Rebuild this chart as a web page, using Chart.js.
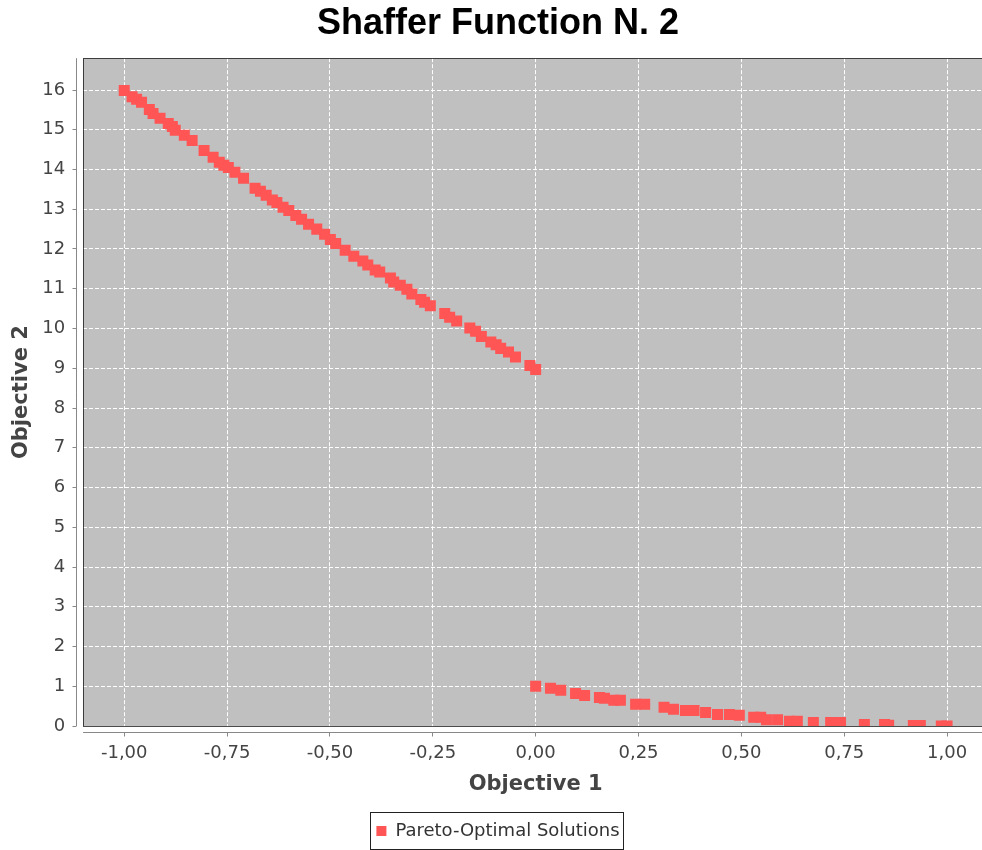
<!DOCTYPE html>
<html lang="en">
<head>
  <meta charset="UTF-8" />
  <title>Shaffer Function N. 2</title>
  <script src="https://cdn.jsdelivr.net/npm/chart.js@4"></script>
  <style>
    html, body { margin: 0; padding: 0; background: #fff; overflow: hidden; }
    canvas { display: block; }
  </style>
</head>
<body>
  <canvas id="paretoChart" width="996" height="850"></canvas>

  <script>
    // Pareto front, left branch (objective 1 from -1 to 0)
    const upperObj1 = [
      -1.000, -0.981, -0.970, -0.958, -0.939, -0.930, -0.913, -0.893, -0.883, -0.876,
      -0.854, -0.835, -0.806, -0.784, -0.769, -0.758, -0.747, -0.731, -0.710, -0.682,
      -0.669, -0.655, -0.640, -0.629, -0.614, -0.600, -0.583, -0.569, -0.552, -0.532,
      -0.513, -0.499, -0.486, -0.463, -0.442, -0.420, -0.408, -0.390, -0.379, -0.353,
      -0.345, -0.329, -0.313, -0.301, -0.279, -0.270, -0.256, -0.221, -0.209, -0.192,
      -0.160, -0.146, -0.132, -0.109, -0.096, -0.085, -0.066, -0.049, -0.014, 0.000
    ];
    const upperObj2 = [
      15.99, 15.83, 15.77, 15.69, 15.51, 15.41, 15.29, 15.16, 15.08, 14.99,
      14.86, 14.73, 14.48, 14.31, 14.18, 14.11, 14.05, 13.93, 13.78, 13.53,
      13.45, 13.35, 13.23, 13.17, 13.05, 12.97, 12.84, 12.75, 12.62, 12.50,
      12.37, 12.24, 12.14, 11.97, 11.82, 11.70, 11.60, 11.47, 11.42, 11.27,
      11.17, 11.09, 10.99, 10.87, 10.73, 10.66, 10.57, 10.38, 10.28, 10.19,
      10.01, 9.93, 9.80, 9.66, 9.59, 9.50, 9.41, 9.28, 9.07, 8.97
    ];
    // right branch (objective 1 from 0 to 1)
    const lowerObj1 = [
      0.000, 0.036, 0.061, 0.097, 0.119, 0.155, 0.167, 0.190, 0.206, 0.243,
      0.265, 0.312, 0.335, 0.364, 0.385, 0.413, 0.442, 0.471, 0.495, 0.530,
      0.547, 0.561, 0.588, 0.617, 0.636, 0.675, 0.717, 0.741, 0.799, 0.848,
      0.858, 0.918, 0.935, 0.986, 1.000
    ];
    const lowerObj2 = [
      1.00, 0.95, 0.90, 0.82, 0.77, 0.72, 0.70, 0.65, 0.65, 0.55,
      0.55, 0.47, 0.42, 0.39, 0.39, 0.34, 0.29, 0.29, 0.27, 0.22,
      0.22, 0.16, 0.16, 0.12, 0.12, 0.09, 0.09, 0.09, 0.04, 0.04,
      0.02, 0.01, 0.01, 0.00, 0.00
    ];

    const xTickValues = [-1, -0.75, -0.5, -0.25, 0, 0.25, 0.5, 0.75, 1];
    const xTickLabels = ["-1,00", "-0,75", "-0,50", "-0,25", "0,00", "0,25", "0,50", "0,75", "1,00"];
    const yTickValues = [0, 1, 2, 3, 4, 5, 6, 7, 8, 9, 10, 11, 12, 13, 14, 15, 16];
    const yTickLabels = ["0", "1", "2", "3", "4", "5", "6", "7", "8", "9", "10", "11", "12", "13", "14", "15", "16"];

    const points = upperObj1.map((x, i) => ({ x: x, y: upperObj2[i] }))
      .concat(lowerObj1.map((x, i) => ({ x: x, y: lowerObj2[i] })));

    const tickFont = { family: "DejaVu Sans", size: 18 };
    const axisFont = { family: "DejaVu Sans", size: 21, weight: "bold" };

    // grey plot background, outline, offset axis lines and the legend frame
    const plotFrame = {
      id: "plotFrame",
      beforeDraw(chart) {
        const { ctx, chartArea: a } = chart;
        ctx.save();
        ctx.fillStyle = "#c0c0c0";
        ctx.fillRect(a.left, a.top, a.right - a.left, a.bottom - a.top);
        ctx.restore();
      },
      afterDatasetsDraw(chart) {
        const { ctx, chartArea: a, scales } = chart;
        const px = p => Math.round(p - 0.5) + 0.5;
        ctx.save();
        ctx.lineWidth = 1;
        ctx.strokeStyle = "rgba(0,0,0,0.7)";
        ctx.strokeRect(px(a.left), px(a.top), Math.round(a.right - a.left), Math.round(a.bottom - a.top));

        ctx.strokeStyle = "#888";
        ctx.beginPath();
        const ax = Math.round(a.left) - 6.5;
        ctx.moveTo(ax, a.top);
        ctx.lineTo(ax, a.bottom);
        yTickValues.forEach(v => {
          const y = px(scales.y.getPixelForValue(v));
          ctx.moveTo(ax - 4, y);
          ctx.lineTo(ax, y);
        });
        const ay = Math.round(a.bottom) + 6.5;
        ctx.moveTo(a.left, ay);
        ctx.lineTo(a.right, ay);
        xTickValues.forEach(v => {
          const x = px(scales.x.getPixelForValue(v));
          ctx.moveTo(x, ay);
          ctx.lineTo(x, ay + 4);
        });
        ctx.stroke();
        ctx.restore();
      },
      afterDraw(chart) {
        const hb = chart.legend.legendHitBoxes[0];
        if (!hb) return;
        const ctx = chart.ctx;
        ctx.save();
        ctx.strokeStyle = "#222";
        ctx.lineWidth = 1;
        ctx.strokeRect(Math.round(hb.left) - 5.5, Math.round(hb.top) - 9.5, Math.round(hb.width) + 10, hb.height + 19);
        ctx.restore();
      }
    };

    new Chart(document.getElementById("paretoChart"), {
      type: "scatter",
      data: {
        datasets: [{
          label: "Pareto-Optimal Solutions",
          data: points,
          backgroundColor: "#ff5555",
          borderColor: "#ff5555",
          borderWidth: 0,
          pointStyle: "rect",
          pointRadius: 7.78,
          pointHoverRadius: 7.78,
          clip: 0
        }]
      },
      options: {
        responsive: false,
        animation: false,
        devicePixelRatio: 1,
        layout: { padding: 0 },
        plugins: {
          title: {
            display: true,
            text: "Shaffer Function N. 2",
            color: "#000",
            font: { family: "Liberation Sans", size: 36, weight: "bold" },
            padding: { top: 2, bottom: 13 }
          },
          legend: {
            position: "bottom",
            labels: {
              usePointStyle: true,
              pointStyle: "rect",
              boxWidth: 10,
              boxHeight: 10,
              padding: 10,
              color: "#333",
              font: tickFont
            }
          },
          tooltip: { enabled: false }
        },
        scales: {
          x: {
            type: "linear",
            position: "bottom",
            min: -1.1,
            max: 1.1,
            afterBuildTicks: s => { s.ticks = xTickValues.map(v => ({ value: v })); },
            afterFit: s => { s.height = 86; },
            ticks: {
              callback: (v, i) => xTickLabels[i],
              color: "#444",
              font: tickFont,
              padding: 16.5,
              maxRotation: 0,
              autoSkip: false
            },
            grid: { color: "#fff", lineWidth: 1, drawTicks: false },
            border: { display: false, dash: [4, 2] },
            title: { display: true, text: "Objective 1", color: "#444", font: axisFont, padding: { top: 0, bottom: 14.4 } }
          },
          y: {
            type: "linear",
            position: "left",
            min: 0,
            max: 16.8,
            afterBuildTicks: s => { s.ticks = yTickValues.map(v => ({ value: v })); },
            afterFit: s => { s.width = 83.1; },
            ticks: {
              callback: (v, i) => yTickLabels[i],
              color: "#444",
              font: tickFont,
              padding: 18,
              autoSkip: false
            },
            grid: { color: "#fff", lineWidth: 1, drawTicks: false },
            border: { display: false, dash: [4, 2] },
            title: { display: true, text: "Objective 2", color: "#444", font: axisFont, padding: { top: 9.4, bottom: 0 } }
          },
          // narrow strip on the right so the plot stops short of the edge
          yRight: {
            type: "linear",
            position: "right",
            display: true,
            afterFit: s => { s.width = 6.3; },
            ticks: { display: false },
            grid: { display: false, drawTicks: false },
            border: { display: false }
          }
        }
      },
      plugins: [plotFrame]
    });
  </script>
</body>
</html>
